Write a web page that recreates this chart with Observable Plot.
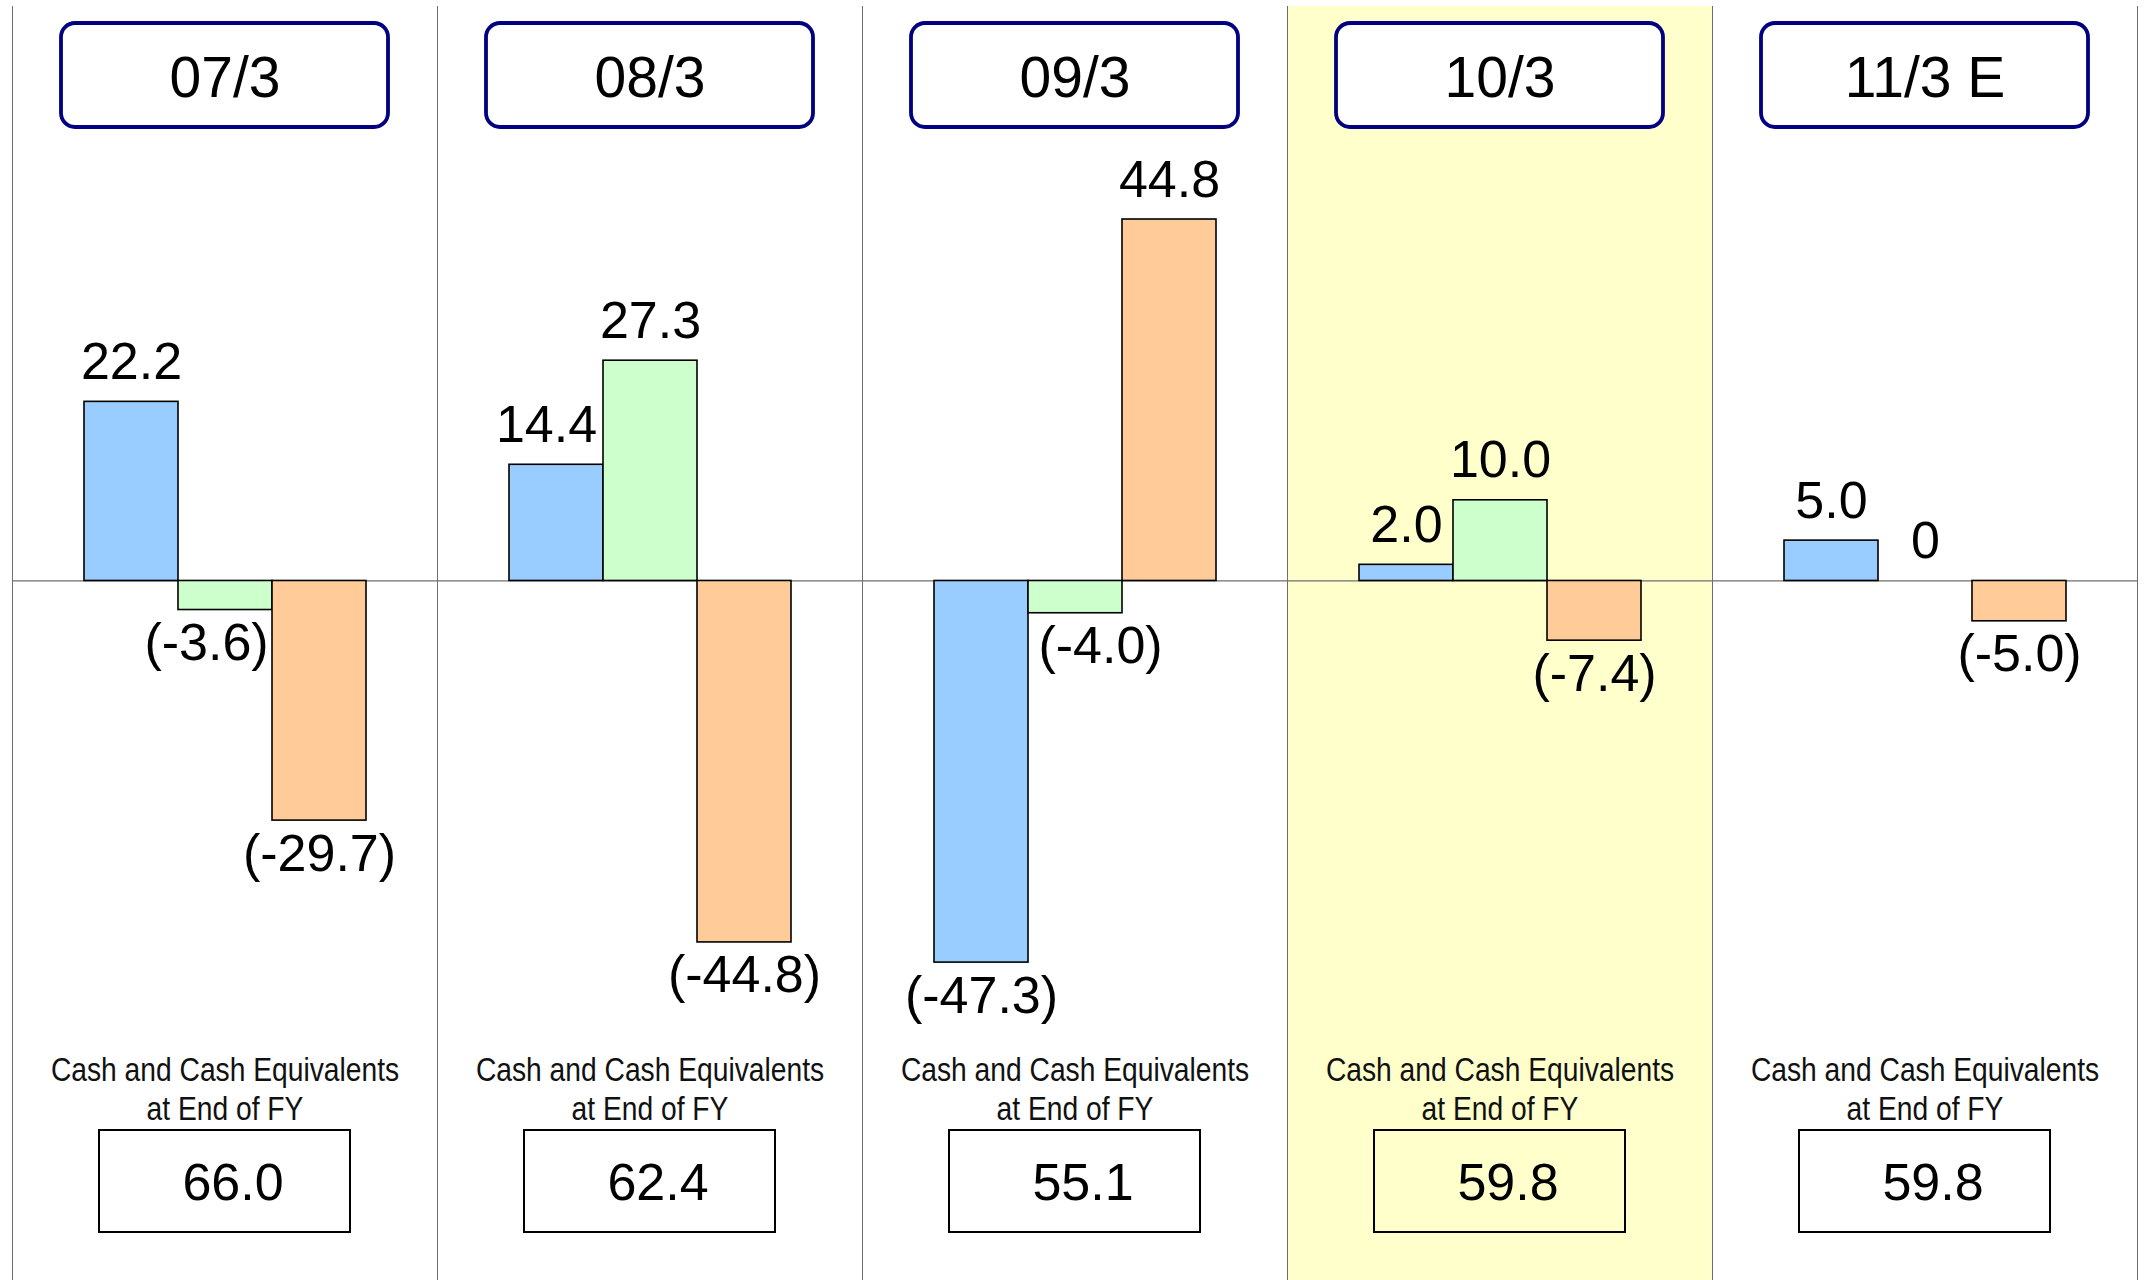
<!DOCTYPE html>
<html>
<head>
<meta charset="utf-8">
<script src="https://cdn.jsdelivr.net/npm/d3@7"></script>
<script src="https://cdn.jsdelivr.net/npm/@observablehq/plot@0.6"></script>
<style>
  html, body { margin: 0; padding: 0; background: #ffffff; }
  #chart svg { display: block; }
</style>
</head>
<body>
<div id="chart"></div>
<script>
// Fiscal years (March year-end); the last one is an estimate.
const years = ["07/3", "08/3", "09/3", "10/3", "11/3 E"];
const highlightYear = "10/3";

// Cash flow components per fiscal year (billions of yen).
const series = ["operating", "investing", "financing"];
const operating = [22.2, 14.4, -47.3, 2.0, 5.0];
const investing = [-3.6, 27.3, -4.0, 10.0, 0];
const financing = [-29.7, -44.8, 44.8, -7.4, -5.0];

// Cash and cash equivalents at the end of each fiscal year.
const endCash = [66.0, 62.4, 55.1, 59.8, 59.8];
const captionLines = ["Cash and Cash Equivalents", "at End of FY"];

const seriesColors = ["#99CCFF", "#CCFFCC", "#FFCC99"];

const values = {operating, investing, financing};
const rows = years.flatMap((year, i) =>
  series.map((s) => ({year, series: s, value: values[s][i]}))
);
const cashRows = years.map((year, i) => ({year, cash: endCash[i]}));

const fmtValue = (v) => (v === 0 ? "0" : v < 0 ? `(${v.toFixed(1)})` : v.toFixed(1));

const numFont = "'Liberation Sans', Arial, Helvetica, sans-serif";

// Value labels; a few are nudged sideways so they clear the neighbouring bar.
const isKey = (d, y, s) => d.year === y && d.series === s;
const nudged = [
  {year: "07/3", series: "investing", dx: -19},
  {year: "08/3", series: "operating", dx: -10},
  {year: "09/3", series: "investing", dx: 25}
];
const isNudged = (d) => nudged.some((n) => isKey(d, n.year, n.series));

function valueLabels(filter, dx) {
  return [
    Plot.text(rows, {
      filter: (d) => filter(d) && d.value >= 0,
      fx: "year", x: "series", y: "value",
      text: (d) => fmtValue(d.value),
      lineAnchor: "bottom", dy: -23, dx,
      fontSize: 52, fill: "#000"
    }),
    Plot.text(rows, {
      filter: (d) => filter(d) && d.value < 0,
      fx: "year", x: "series", y: "value",
      text: (d) => fmtValue(d.value),
      lineAnchor: "top", dy: 13, dx,
      fontSize: 52, fill: "#000"
    })
  ];
}

const chart = Plot.plot({
  width: 2147,
  height: 1280,
  marginTop: 6,
  marginBottom: 0,
  marginLeft: 10,
  marginRight: 9,
  style: {fontFamily: numFont, background: "#ffffff", color: "#000"},
  fx: {domain: years, padding: 0, axis: null},
  x: {domain: series, paddingInner: 0, paddingOuter: 0.75, axis: null},
  y: {domain: [-86.7, 71.2], axis: null},
  color: {domain: series, range: seriesColors},
  marks: [
    // highlighted fiscal year
    Plot.rect([highlightYear], {fx: (d) => d, fill: "#FFFFCC"}),
    // panel separators
    Plot.frame({anchor: "left", stroke: "#6e6e6e", strokeWidth: 1}),
    Plot.frame({anchor: "right", stroke: "#6e6e6e", strokeWidth: 1}),
    // zero baseline
    Plot.ruleY([0], {stroke: "#6e6e6e", strokeWidth: 1.2}),
    // cash flow bars
    Plot.barY(rows, {
      fx: "year", x: "series", y: "value",
      fill: "series", stroke: "#000", strokeWidth: 1.6
    }),
    ...valueLabels((d) => !isNudged(d), 0),
    ...nudged.flatMap((n) => valueLabels((d) => isKey(d, n.year, n.series), n.dx)),
    // fiscal year header boxes
    Plot.rect(years, {
      fx: (d) => d,
      insetLeft: 49, insetRight: 49, insetTop: 17, insetBottom: 1153,
      rx: 14, fill: "#ffffff", stroke: "#000080", strokeWidth: 3.8
    }),
    Plot.text(years, {
      fx: (d) => d, text: (d) => d,
      frameAnchor: "top", dy: 72, lineAnchor: "middle",
      fontSize: 57, fill: "#000"
    }),
    // end-of-year cash caption (two lines) and value box
    Plot.text(years, {
      fx: (d) => d, text: () => captionLines[0],
      frameAnchor: "bottom", dy: -210, lineAnchor: "middle",
      fontSize: 34, fill: "#111"
    }),
    Plot.text(years, {
      fx: (d) => d, text: () => captionLines[1],
      frameAnchor: "bottom", dy: -171, lineAnchor: "middle",
      fontSize: 34, fill: "#111"
    }),
    Plot.rect(years, {
      fx: (d) => d,
      insetLeft: 87, insetRight: 87, insetTop: 1124, insetBottom: 48,
      fill: "none", stroke: "#000", strokeWidth: 2
    }),
    Plot.text(cashRows, {
      fx: "year", text: (d) => d.cash.toFixed(1),
      frameAnchor: "bottom", dy: -97, dx: 8, lineAnchor: "middle",
      fontSize: 52, fill: "#000"
    })
  ]
});

document.getElementById("chart").appendChild(chart);

// The caption is set in a condensed face: squeeze each line horizontally
// about its own anchor point.
d3.select(chart)
  .selectAll("text")
  .filter(function () { return captionLines.includes(this.textContent); })
  .each(function () {
    const t = this.getAttribute("transform") || "";
    this.setAttribute("transform", `${t} scale(0.83,1)`.trim());
  });
</script>
</body>
</html>
